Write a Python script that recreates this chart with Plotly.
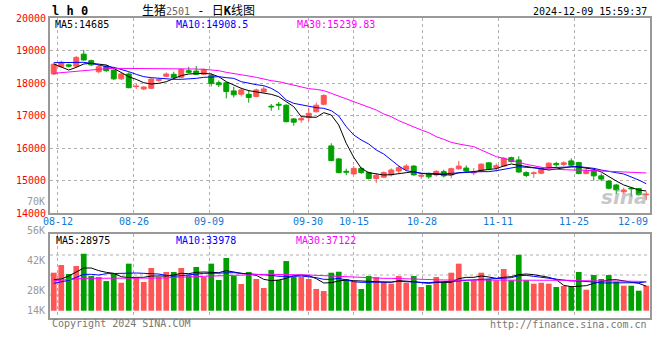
import plotly.graph_objects as go

# ---------------- data ----------------
opens = [18280, 18500, 18560, 18520, 18890, 18690, 18350, 18520, 18400, 18130,
         18280, 17890, 17820, 17840, 18080, 18210, 18270, 18180, 18380, 18370,
         18270, 18230, 18010, 18010, 17760, 17660, 17655, 17590, 17730, 17290,
         17350, 17320, 16900, 16870, 16940, 17120, 17350, 16070, 15670, 15290,
         15210, 15380, 15250, 15070, 15110, 15180, 15300, 15350, 15450, 15140,
         15200, 15180, 15280, 15180, 15370, 15390, 15240, 15300, 15550, 15410,
         15450, 15710, 15640, 15250, 15220, 15230, 15420, 15530, 15500, 15610,
         15560, 15220, 15300, 15150, 14990, 14870, 14660, 14770, 14760, 14570]
closes = [18580, 18640, 18520, 18790, 18710, 18560, 18500, 18380, 18130, 18280,
          17860, 17910, 17880, 18125, 18110, 18280, 18170, 18420, 18330, 18270,
          18420, 17990, 17950, 17740, 17640, 17790, 17560, 17790, 17820, 17265,
          17320, 16815, 16800, 16910, 17070, 17320, 17620, 15620, 15250, 15260,
          15380, 15250, 15070, 15170, 15250, 15330, 15400, 15450, 15180, 15170,
          15120, 15290, 15150, 15370, 15450, 15300, 15265, 15510, 15370, 15460,
          15690, 15590, 15270, 15160, 15245, 15380, 15540, 15490, 15550, 15480,
          15220, 15320, 15150, 15050, 14770, 14720, 14715, 14750, 14580, 14590]
highs = [18600, 18690, 18600, 18830, 19020, 18720, 18560, 18560, 18420, 18320,
         18330, 17980, 17900, 18146, 18150, 18330, 18350, 18450, 18500, 18530,
         18450, 18300, 18080, 18040, 17890, 17860, 17790, 17830, 17900, 17360,
         17420, 17350, 16920, 17020, 17240, 17400, 17660, 16150, 15700, 15370,
         15450, 15420, 15280, 15230, 15290, 15380, 15470, 15510, 15480, 15240,
         15250, 15320, 15340, 15400, 15610, 15470, 15390, 15530, 15570, 15530,
         15720, 15740, 15750, 15290, 15290, 15410, 15570, 15580, 15600, 15690,
         15580, 15380, 15380, 15220, 15010, 14900, 14790, 14790, 14780, 14660]
lows = [18250, 18480, 18480, 18480, 18690, 18520, 18300, 18350, 18090, 18090,
        17840, 17820, 17780, 17818, 18040, 18180, 18115, 18150, 18300, 18260,
        18250, 17900, 17880, 17530, 17560, 17590, 17400, 17560, 17710, 17150,
        17170, 16790, 16690, 16780, 16840, 17100, 17320, 15600, 15230, 15170,
        15180, 15210, 15040, 14930, 15090, 15130, 15230, 15310, 15160, 15060,
        15060, 15130, 15100, 15080, 15330, 15250, 15170, 15260, 15320, 15280,
        15430, 15560, 15240, 15110, 15090, 15200, 15340, 15430, 15450, 15450,
        15200, 15200, 15000, 14990, 14740, 14590, 14600, 14510, 14540, 14410]

ma5 = [18587, 18504, 18402, 18484, 18587, 18608, 18587, 18556, 18454, 18320,
       18196, 18115, 18012, 17972, 17994, 18043, 18147, 18230, 18280, 18300,
       18300, 18280, 18196, 18044, 17942, 17839, 17768, 17737, 17686, 17655,
       17583, 17430, 17276, 16969, 16948, 16948, 17092, 17020, 16713, 16150,
       15720, 15382, 15248, 15208, 15177, 15187, 15208, 15248, 15279, 15228,
       15208, 15197, 15167, 15177, 15248, 15259, 15279, 15320, 15341, 15371,
       15453, 15515, 15474, 15433, 15392, 15351, 15330, 15361, 15402, 15433,
       15423, 15392, 15351, 15269, 15126, 14993, 14870, 14788, 14716, 14685]
ma10 = [18628, 18628, 18628, 18638, 18638, 18607, 18556, 18505, 18484, 18423,
        18351, 18269, 18198, 18167, 18146, 18126, 18116, 18116, 18126, 18146,
        18177, 18198, 18198, 18167, 18146, 18044, 17993, 17952, 17921, 17839,
        17706, 17481, 17378, 17327, 17276, 17245, 17225, 17153, 16989, 16662,
        16406, 16252, 16129, 15945, 15822, 15638, 15453, 15310, 15259, 15228,
        15228, 15218, 15208, 15228, 15248, 15269, 15269, 15279, 15279, 15310,
        15351, 15402, 15433, 15412, 15402, 15382, 15402, 15402, 15402, 15423,
        15433, 15412, 15382, 15330, 15279, 15248, 15208, 15126, 15023, 14908]
ma30 = [18300, 18320, 18341, 18372, 18402, 18423, 18433, 18443, 18454, 18454,
        18454, 18454, 18454, 18454, 18454, 18443, 18443, 18433, 18433, 18433,
        18423, 18402, 18382, 18331, 18300, 18259, 18218, 18177, 18116, 18075,
        18044, 17993, 17921, 17870, 17829, 17808, 17768, 17686, 17604, 17501,
        17430, 17358, 17276, 17174, 17051, 16969, 16846, 16743, 16641, 16559,
        16477, 16354, 16272, 16180, 16129, 16088, 16047, 15945, 15842, 15740,
        15689, 15617, 15566, 15505, 15453, 15402, 15371, 15351, 15330, 15330,
        15330, 15320, 15310, 15310, 15300, 15289, 15279, 15259, 15250, 15240]

volumes = [44840, 53900, 43300, 52700, 67300, 40900, 39800, 35000, 44100, 33000,
           55500, 39800, 33900, 50400, 39800, 45700, 45700, 50400, 41800, 51600,
           39800, 55500, 36200, 62200, 40900, 31500, 45700, 37400, 26800, 48000,
           36200, 58600, 39800, 39800, 37400, 25600, 23200, 44840, 46000, 37400,
           34200, 25600, 40900, 39800, 33900, 31900, 40900, 33000, 40900, 28000,
           30300, 39800, 33900, 44840, 55500, 34200, 35900, 44840, 37400, 35900,
           49200, 35900, 66100, 35900, 31900, 33000, 31900, 28000, 29100, 29100,
           45700, 24800, 42100, 37400, 42100, 34200, 29500, 29500, 23600, 29500]
vma5 = [36620, 37410, 40950, 45280, 50390, 50390, 47245, 45280, 44100, 40170,
        38985, 39380, 39380, 40950, 40950, 40950, 42130, 44100, 43700, 45280,
        45670, 45670, 44890, 47245, 45280, 44100, 43310, 41740, 37020, 35450,
        36230, 38200, 41340, 42130, 41340, 37810, 32690, 33080, 35050, 36230,
        35450, 35050, 35050, 34270, 33480, 33480, 35450, 35050, 34270, 33080,
        32300, 33480, 33080, 33480, 37810, 39380, 39380, 40950, 39770, 38200,
        39380, 40170, 42520, 43310, 42520, 40950, 39380, 36620, 29940, 28370,
        29150, 29550, 32300, 34270, 36230, 36620, 35050, 34270, 32300, 28975]
vma10 = [32300, 34270, 35840, 39380, 42920, 42920, 42130, 43700, 44100, 44100,
         44890, 44490, 44100, 44100, 43310, 41740, 40560, 41340, 42520, 43310,
         44100, 44100, 44490, 44890, 44890, 44100, 43700, 43310, 42520, 41740,
         40560, 40170, 40560, 40950, 40170, 38985, 37020, 37020, 38200, 36230,
         34270, 33480, 33480, 33480, 33080, 33870, 34660, 33870, 33870, 33480,
         33080, 33870, 34270, 33870, 35050, 35840, 36230, 37020, 37020, 37410,
         37810, 38985, 41340, 41740, 40560, 39380, 38200, 37020, 35840, 35050,
         35050, 34660, 33870, 32690, 32690, 33080, 33080, 33080, 33080, 33978]
vma30 = [35450, 35840, 36620, 37410, 38200, 38200, 38200, 38200, 38200, 38600,
         38985, 38600, 38200, 38200, 38200, 38600, 39380, 39380, 39770, 40170,
         40560, 40950, 41340, 41740, 42130, 42520, 42520, 42920, 42920, 42920,
         42920, 42920, 42920, 42520, 42130, 41740, 41340, 40170, 39770, 39380,
         39380, 39380, 38985, 38600, 38200, 38200, 37810, 37410, 37020, 37020,
         36620, 36230, 36230, 36230, 36230, 36230, 36230, 36230, 36230, 36230,
         36230, 36230, 36230, 36620, 36620, 36230, 36230, 35840, 35840, 35840,
         35450, 35450, 35450, 35450, 35450, 35450, 35050, 35050, 34660, 34270]

date_tick_index = [1, 11, 21, 34, 40, 49, 59, 69, 79]
date_tick_labels = ["08-12", "08-26", "09-09", "09-30", "10-15",
                    "10-28", "11-11", "11-25", "12-09"]
price_ticks = [14000, 15000, 16000, 17000, 18000, 19000, 20000]
vol_tick_labels = ["56K", "42K", "28K", "14K"]

header_main = ["MA5:14685", "MA10:14908.5", "MA30:15239.83"]
header_vol = ["MA5:28975", "MA10:33978", "MA30:37122"]

# ---------------- styling ----------------
UP = "#ff5555"
DOWN = "#00a000"
GRID = "#b0b0b0"
BORDER = "#999999"
MONO = "DejaVu Sans Mono, Liberation Mono, monospace"

n = len(closes)
idx = list(range(n))
is_up = [c >= o for o, c in zip(opens, closes)]
colors = [UP if u else DOWN for u in is_up]

# Sina places date gridlines on a slightly different scale than the bar slots
grid_x = [i * n / (n - 1) - 0.5 for i in date_tick_index]

fig = go.Figure()

# wicks
for flag, col in ((True, UP), (False, DOWN)):
    xs, ys = [], []
    for i in idx:
        if is_up[i] == flag:
            xs += [i, i, None]
            ys += [lows[i], highs[i], None]
    fig.add_trace(go.Scatter(x=xs, y=ys, mode="lines",
                             line=dict(color=col, width=1),
                             xaxis="x", yaxis="y", hoverinfo="skip"))

# bodies
fig.add_trace(go.Bar(
    x=idx,
    y=[abs(c - o) for o, c in zip(opens, closes)],
    base=[min(o, c) for o, c in zip(opens, closes)],
    width=0.66,
    marker=dict(color=colors, line=dict(color=colors, width=1)),
    xaxis="x", yaxis="y", hoverinfo="skip"))

# price moving averages
for series, col in ((ma5, "#000000"), (ma10, "#0000ff"), (ma30, "#ff00ff")):
    fig.add_trace(go.Scatter(x=idx, y=series, mode="lines",
                             line=dict(color=col, width=1),
                             xaxis="x", yaxis="y", hoverinfo="skip"))

# volume bars
fig.add_trace(go.Bar(x=idx, y=volumes, width=0.76,
                     marker=dict(color=colors, line=dict(width=0)),
                     xaxis="x2", yaxis="y2", hoverinfo="skip"))

for series, col in ((vma5, "#000000"), (vma10, "#0000ff"), (vma30, "#ff00ff")):
    fig.add_trace(go.Scatter(x=idx, y=series, mode="lines",
                             line=dict(color=col, width=1),
                             xaxis="x2", yaxis="y2", hoverinfo="skip"))

# ---------------- layout (window pixels; page margin removed below) ----------------
PLOT_L, PLOT_R, PLOT_T, PLOT_B = 50, 650, 18, 318
W, H = 660, 360
PW, PH = PLOT_R - PLOT_L, PLOT_B - PLOT_T


def px(x):
    return (x - PLOT_L) / PW


def py(y):
    return (PLOT_B - y) / PH


main_bottom = py(213.3)
vol_top = py(234.3)

axis_common = dict(showline=True, mirror=True, linecolor=BORDER, linewidth=2,
                   zeroline=False, ticks="", fixedrange=True, automargin=False)

fig.update_layout(
    width=W, height=H,
    margin=dict(l=PLOT_L, r=W - PLOT_R, t=PLOT_T, b=H - PLOT_B,
                autoexpand=False),
    paper_bgcolor="white", plot_bgcolor="white",
    showlegend=False, barmode="overlay", hovermode=False,
    font=dict(family=MONO, size=10, color="#000000"),
    xaxis=dict(domain=[0, 1], range=[-0.5, n - 0.5], anchor="y",
               tickvals=grid_x, showticklabels=False,
               showgrid=True, gridcolor=GRID, griddash="dot", gridwidth=1,
               **axis_common),
    xaxis2=dict(domain=[0, 1], range=[-0.5, n - 0.5], anchor="y2",
                matches="x", tickvals=grid_x, showticklabels=False,
                showgrid=True, gridcolor=GRID, griddash="dot", gridwidth=1,
                **axis_common),
    yaxis=dict(domain=[main_bottom, 1], range=[14000, 20000], anchor="x",
               tickvals=price_ticks, ticktext=[str(v) for v in price_ticks],
               tickfont=dict(family=MONO, size=10, color="#ff0000"),
               showgrid=True, gridcolor=GRID, griddash="dot", gridwidth=1,
               **axis_common),
    yaxis2=dict(domain=[0, vol_top], range=[-8600, 90150], anchor="x2",
                showticklabels=False, showgrid=False, **axis_common),
)

# volume panel horizontal dotted gridlines
for yy in (255, 275, 295):
    frac = (PLOT_B - yy) / (PLOT_B - 234.3)
    fig.add_shape(type="line", xref="x2 domain", yref="y2 domain",
                  x0=0, x1=1, y0=frac, y1=frac, layer="below",
                  line=dict(color=GRID, width=1, dash="dot"))

ann = []


def text(x, y, s, color="#000000", size=10, anchor="left", family=MONO):
    ann.append(dict(x=px(x), y=py(y), xref="paper", yref="paper", text=s,
                    showarrow=False, xanchor=anchor, yanchor="middle",
                    font=dict(family=family, size=size, color=color)))


text(50, 11, "<b>l h 0</b>", size=12)
text(140, 11, '生猪<span style="color:#666666;font-size:10px">2501</span> - 日<b>K</b>线图',
     size=12, family="DejaVu Sans Mono, Noto Sans CJK SC")
text(649, 12, "2024-12-09 15:59:37", anchor="right")

text(53, 24, header_main[0], "#000000")
text(174, 24, header_main[1], "#0000ff")
text(295, 24, header_main[2], "#ff00ff")

text(47, 201, "70K", "#999999", anchor="right")

text(54, 240, header_vol[0], "#000000")
text(174, 240, header_vol[1], "#0000ff")
text(294, 240, header_vol[2], "#ff00ff")

for lab, yy in zip(vol_tick_labels, (230.7, 260.7, 290.7, 310.7)):
    text(47, yy, lab, "#999999", anchor="right")

for gx, lab in zip(grid_x, date_tick_labels):
    anchor = "right" if gx >= n - 0.6 else "center"
    ann.append(dict(x=gx, y=py(221.7), xref="x", yref="paper", text=lab,
                    showarrow=False, xanchor=anchor, yanchor="middle",
                    font=dict(family=MONO, size=10, color="#1478d2")))

text(50, 323.5, "Copyright 2024 SINA.COM", "#777777")
text(649, 324, "http://finance.sina.com.cn", "#777777", anchor="right")

# watermark
text(650, 197, "<b><i>sina</i></b>", "rgba(150,150,150,0.55)", size=20,
     anchor="right", family="DejaVu Sans")

fig.update_layout(annotations=ann)

# remove the browser's default 8px body margin so the figure sits at (0, 0)
fig.write_html("out.html",
               config={"displayModeBar": False, "staticPlot": True},
               post_script="document.body.style.margin='0';"
                           "document.body.style.overflow='hidden';")
